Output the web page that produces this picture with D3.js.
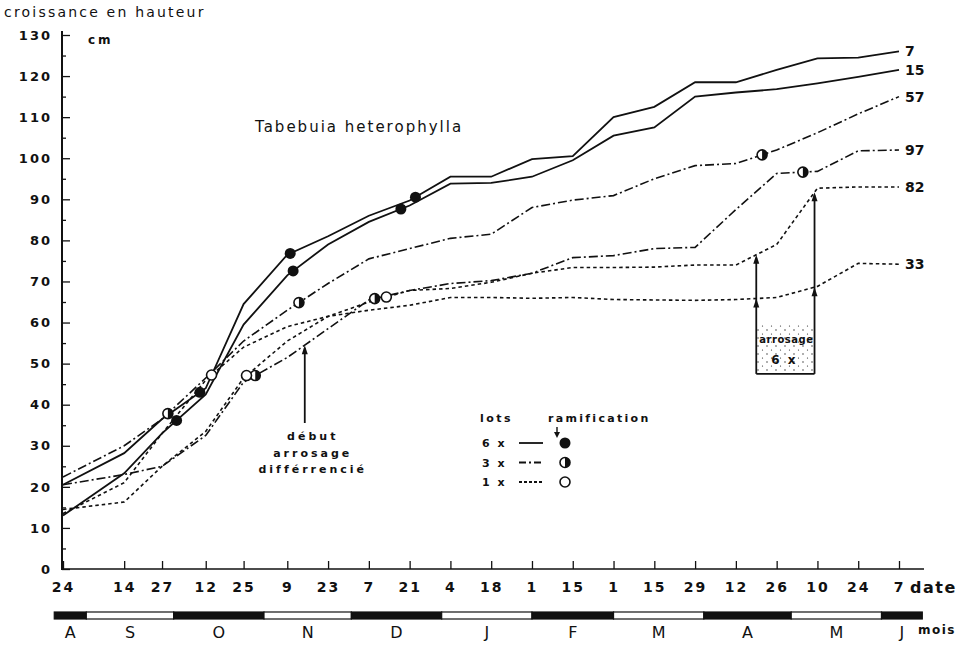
<!DOCTYPE html>
<html>
<head>
<meta charset="UTF-8" />
<title>Tabebuia heterophylla</title>
<script src="https://d3js.org/d3.v7.min.js"></script>
<style>
  body { margin: 0; background: #fff; }
  svg text { font-family: "DejaVu Sans", sans-serif; fill: #111; }
  .tick text { font-size: 13px; font-weight: bold; letter-spacing: 2px; }
</style>
</head>
<body>
<div id="main"></div>
<script>
const parse = d3.timeParse('%Y-%m-%d');

// measurement dates (date axis)
const dates = ['1974-08-24', '1974-09-14', '1974-09-27', '1974-10-12', '1974-10-25',
  '1974-11-09', '1974-11-23', '1974-12-07', '1974-12-21', '1975-01-04', '1975-01-18',
  '1975-02-01', '1975-02-15', '1975-03-01', '1975-03-15', '1975-03-29', '1975-04-12',
  '1975-04-26', '1975-05-10', '1975-05-24', '1975-06-07'];

// heights (cm) for each plant
const lot7  = [20.5, 28.2, 36.5, 44.0, 64.5, 76.5, 81.0, 86.0, 89.7, 95.5, 95.5, 99.8, 100.5, 110.0, 112.5, 118.5, 118.5, 121.5, 124.3, 124.5, 126.0];
const lot15 = [13.0, 23.3, 33.0, 42.5, 59.5, 71.5, 79.0, 84.5, 88.5, 93.8, 94.0, 95.5, 99.5, 105.5, 107.5, 115.0, 116.0, 116.8, 118.2, 119.8, 121.5];
const lot57 = [22.4, 30.0, 36.5, 46.5, 55.5, 63.0, 69.5, 75.5, 78.0, 80.5, 81.5, 88.0, 89.8, 90.9, 95.0, 98.2, 98.7, 102.0, 106.2, 110.8, 115.0];
const lot97 = [20.5, 23.0, 25.0, 32.5, 45.5, 51.5, 58.5, 65.5, 67.8, 69.5, 70.2, 72.0, 75.8, 76.3, 78.0, 78.3, 87.5, 96.3, 96.8, 101.8, 102.0];
const lot82 = [14.5, 16.3, 25.0, 33.5, 46.5, 55.5, 61.5, 65.0, 67.8, 68.3, 69.8, 72.0, 73.4, 73.4, 73.5, 74.0, 74.0, 79.0, 92.7, 93.0, 93.0];
const lot33 = [13.5, 21.0, 33.0, 46.0, 54.0, 59.0, 61.5, 63.0, 64.2, 66.1, 66.1, 65.9, 66.1, 65.6, 65.5, 65.4, 65.6, 66.1, 68.8, 74.4, 74.2];

// ramification dates per plant
const ramif7  = ['1974-10-10', '1974-11-10', '1974-12-23'];
const ramif15 = ['1974-10-02', '1974-11-11', '1974-12-18'];
const ramif57 = ['1974-09-29', '1974-11-13', '1975-04-21'];
const ramif97 = ['1974-10-29', '1974-12-09', '1975-05-05'];
const ramif82 = ['1974-10-26', '1974-12-13'];
const ramif33 = ['1974-10-14'];

const plantNames = ['7', '15', '57', '97', '82', '33'];
const plantLots = ['6x', '6x', '3x', '3x', '1x', '1x'];

const lotNames = ['6 x', '3 x', '1 x'];
const months = ['A', 'S', 'O', 'N', 'D', 'J', 'F', 'M', 'A', 'M', 'J'];
const monthStarts = ['1974-08-01', '1974-09-01', '1974-10-01', '1974-11-01', '1974-12-01',
  '1975-01-01', '1975-02-01', '1975-03-01', '1975-04-01', '1975-05-01', '1975-06-01', '1975-07-01'];

const width = 966;
const height = 645;

const svg = d3.select('div#main').append('svg')
  .attr('width', width).attr('height', height);

const x = d3.scaleTime()
  .domain([parse('1974-08-24'), parse('1975-06-07')])
  .range([63, 899]);
const y = d3.scaleLinear().domain([0, 130]).range([569, 35]);

const dashOf = { '6x': null, '3x': '9,3,2,3', '1x': '3.5,3' };

// stipple pattern for the watering box
const pat = svg.append('defs').append('pattern')
  .attr('id', 'stip').attr('width', 9).attr('height', 8)
  .attr('patternUnits', 'userSpaceOnUse');
pat.append('circle').attr('cx', 2).attr('cy', 2).attr('r', 0.7).attr('fill', '#222');
pat.append('circle').attr('cx', 6.5).attr('cy', 6).attr('r', 0.6).attr('fill', '#222');

// axes
const yAxis = svg.append('g').attr('transform', 'translate(62,0)')
  .call(d3.axisLeft(y).tickValues(d3.range(0, 131, 10)).tickSize(-8).tickPadding(10).tickSizeOuter(0));
yAxis.select('.domain').remove();
svg.append('g').attr('transform', 'translate(62,0)')
  .call(d3.axisLeft(y).tickValues(d3.range(5, 130, 10)).tickSize(-4).tickFormat('').tickSizeOuter(0))
  .select('.domain').remove();
svg.append('line').attr('x1', 62).attr('x2', 62).attr('y1', 31).attr('y2', 570)
  .attr('stroke', '#111').attr('stroke-width', 2);

const xAxis = svg.append('g').attr('transform', 'translate(0,569)')
  .call(d3.axisBottom(x).tickValues(dates.map(parse)).tickSize(-8).tickPadding(13)
    .tickFormat(d3.timeFormat('%-d')).tickSizeOuter(0));
xAxis.select('.domain').remove();
xAxis.selectAll('.tick text').style('font-size', '14px');
svg.append('line').attr('x1', 62).attr('x2', 924).attr('y1', 569).attr('y2', 569)
  .attr('stroke', '#111').attr('stroke-width', 1.6);
svg.selectAll('.tick line').attr('stroke', '#111').attr('stroke-width', 1.3);

// month bar
const barStart = parse('1974-08-21');
const barEnd = parse('1975-06-15');
months.forEach((m, i) => {
  const a = d3.max([parse(monthStarts[i]), barStart]);
  const b = d3.min([parse(monthStarts[i + 1]), barEnd]);
  svg.append('rect')
    .attr('x', x(a)).attr('y', 612).attr('width', x(b) - x(a)).attr('height', 7)
    .attr('fill', i % 2 === 0 ? '#111' : '#fff')
    .attr('stroke', '#111').attr('stroke-width', 1.2);
  svg.append('text')
    .attr('x', (x(a) + x(b)) / 2).attr('y', 638)
    .attr('text-anchor', 'middle').style('font-size', '16px')
    .text(m);
});

// lines
const line = d3.line().x(d => x(d.date)).y(d => y(d.v));
const allLots = [lot7, lot15, lot57, lot97, lot82, lot33];
const allRamif = [ramif7, ramif15, ramif57, ramif97, ramif82, ramif33];

function valueAt(vals, dt) {
  const t = +dt;
  for (let i = 0; i < dates.length - 1; i++) {
    const t0 = +parse(dates[i]);
    const t1 = +parse(dates[i + 1]);
    if (t >= t0 && t <= t1) {
      return vals[i] + (vals[i + 1] - vals[i]) * (t - t0) / (t1 - t0);
    }
  }
  return vals[vals.length - 1];
}

allLots.forEach((vals, k) => {
  const pts = vals.map((v, i) => ({ date: parse(dates[i]), v: v }));
  svg.append('path')
    .datum(pts)
    .attr('d', line)
    .attr('fill', 'none')
    .attr('stroke', '#111')
    .attr('stroke-width', plantLots[k] === '6x' ? 1.8 : 1.6)
    .attr('stroke-dasharray', dashOf[plantLots[k]]);
  const last = pts[pts.length - 1];
  svg.append('text')
    .attr('x', x(last.date) + 6).attr('y', y(last.v) + 5)
    .style('font-size', '14px').style('font-weight', 'bold')
    .text(plantNames[k]);
});

function marker(g, cx, cy, lot) {
  const r = 5;
  if (lot === '6x') {
    g.append('circle').attr('cx', cx).attr('cy', cy).attr('r', r + 0.5).attr('fill', '#111');
  } else {
    g.append('circle').attr('cx', cx).attr('cy', cy).attr('r', r)
      .attr('fill', '#fff').attr('stroke', '#111').attr('stroke-width', 1.6);
    if (lot === '3x') {
      g.append('path')
        .attr('d', `M${cx},${cy - r}A${r},${r} 0 0 1 ${cx},${cy + r}Z`)
        .attr('fill', '#111');
    }
  }
}

const markG = svg.append('g');
allRamif.forEach((ds, k) => {
  ds.forEach(d => {
    const dt = parse(d);
    marker(markG, x(dt), y(valueAt(allLots[k], dt)), plantLots[k]);
  });
});

// texts
svg.append('text').attr('x', 4).attr('y', 17)
  .style('font-size', '14px').style('letter-spacing', '2.2px').text('croissance en hauteur');
svg.append('text').attr('x', 88).attr('y', 44)
  .style('font-size', '12px').style('font-weight', 'bold').style('letter-spacing', '3px').text('cm');
svg.append('text').attr('x', 255).attr('y', 132)
  .style('font-size', '15px').style('letter-spacing', '2px').text('Tabebuia heterophylla');
svg.append('text').attr('x', 910).attr('y', 593)
  .style('font-size', '16px').style('font-weight', 'bold').style('letter-spacing', '1.5px').text('date');
svg.append('text').attr('x', 918).attr('y', 634)
  .style('font-size', '12px').style('font-weight', 'bold').style('letter-spacing', '1.5px').text('mois');

function arrowUp(g, ax, tipY) {
  g.append('path')
    .attr('d', `M${ax},${tipY}L${ax - 3},${tipY + 9}L${ax + 3},${tipY + 9}Z`)
    .attr('fill', '#111');
}

// début arrosage différencié
const ann = svg.append('g');
const debutDate = parse('1974-11-15');
ann.append('line').attr('x1', x(debutDate)).attr('x2', x(debutDate))
  .attr('y1', 423).attr('y2', y(valueAt(lot97, debutDate)) + 3)
  .attr('stroke', '#111').attr('stroke-width', 1.8);
arrowUp(ann, x(debutDate), y(valueAt(lot97, debutDate)));
['début', 'arrosage', 'différrencié'].forEach((t, i) => {
  ann.append('text').attr('x', x(debutDate) + 8).attr('y', 440 + i * 16.5)
    .attr('text-anchor', 'middle')
    .style('font-size', '11px').style('font-weight', 'bold').style('letter-spacing', '3px')
    .text(t);
});

// arrosage 6 x box
const boxL = parse('1975-04-19');
const boxR = parse('1975-05-09');
const boxBottom = y(47.5);
const stipTop = y(59.5);
ann.append('rect')
  .attr('x', x(boxL)).attr('y', stipTop)
  .attr('width', x(boxR) - x(boxL)).attr('height', boxBottom - stipTop)
  .attr('fill', 'url(#stip)');
[boxL, boxR].forEach(d => {
  const top = y(valueAt(lot82, d));
  ann.append('line').attr('x1', x(d)).attr('x2', x(d))
    .attr('y1', boxBottom).attr('y2', top + 3)
    .attr('stroke', '#111').attr('stroke-width', 1.8);
  arrowUp(ann, x(d), top);
  arrowUp(ann, x(d), y(valueAt(lot33, d)));
});
ann.append('line').attr('x1', x(boxL)).attr('x2', x(boxR))
  .attr('y1', boxBottom).attr('y2', boxBottom)
  .attr('stroke', '#111').attr('stroke-width', 1.8);
ann.append('text').attr('x', (x(boxL) + x(boxR)) / 2 + 1).attr('y', 343)
  .attr('text-anchor', 'middle').style('font-size', '10px').style('font-weight', 'bold')
  .style('letter-spacing', '0.5px').text('arrosage');
ann.append('text').attr('x', (x(boxL) + x(boxR)) / 2 - 1).attr('y', 364)
  .attr('text-anchor', 'middle').style('font-size', '12px').style('font-weight', 'bold')
  .style('letter-spacing', '2px').text('6 x');

// legend
const leg = svg.append('g');
leg.append('text').attr('x', 480).attr('y', 422)
  .style('font-size', '11px').style('font-weight', 'bold').style('letter-spacing', '2.5px').text('lots');
leg.append('text').attr('x', 548).attr('y', 422)
  .style('font-size', '11px').style('font-weight', 'bold').style('letter-spacing', '2.3px').text('ramification');
leg.append('line').attr('x1', 557).attr('x2', 557).attr('y1', 427).attr('y2', 433)
  .attr('stroke', '#111').attr('stroke-width', 1.4);
leg.append('path').attr('d', 'M554,432L560,432L557,438Z').attr('fill', '#111');
const lotKeys = ['6x', '3x', '1x'];
lotNames.forEach((t, i) => {
  const ly = 443 + i * 19.5;
  leg.append('text').attr('x', 482).attr('y', ly + 4)
    .style('font-size', '11px').style('font-weight', 'bold').style('letter-spacing', '2px').text(t);
  leg.append('line').attr('x1', 519).attr('x2', 543).attr('y1', ly).attr('y2', ly)
    .attr('stroke', '#111').attr('stroke-width', 1.8)
    .attr('stroke-dasharray', lotKeys[i] === '3x' ? '7,3,2,3' : (lotKeys[i] === '1x' ? '3,2' : null));
  marker(leg, 565, ly, lotKeys[i]);
});
</script>
</body>
</html>
